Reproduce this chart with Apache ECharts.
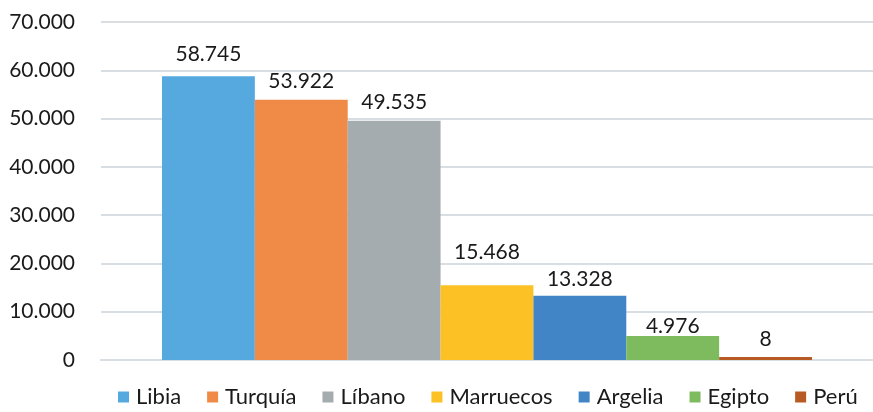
<!DOCTYPE html>
<html>
<head>
<meta charset="utf-8">
<script src="https://cdn.jsdelivr.net/npm/echarts@6/dist/echarts.min.js"></script>
<style>
  html, body { margin: 0; padding: 0; background: #fff; }
  #chart { width: 873px; height: 412px; }
</style>
</head>
<body>
<div id="chart"></div>
<script>
// Chart data
const countries = ['Libia', 'Turquía', 'Líbano', 'Marruecos', 'Argelia', 'Egipto', 'Perú'];
const values = [58745, 53922, 49535, 15468, 13328, 4976, 8];
const colors = ['#55A9DF', '#EF8A47', '#A5ACAF', '#FBC125', '#4285C7', '#7EBB5E', '#B85A24'];
const yTicks = [0, 10000, 20000, 30000, 40000, 50000, 60000, 70000];

// Thousands with a dot, as in Spanish
function fmt(v) {
    return String(v).replace(/\B(?=(\d{3})+(?!\d))/g, '.');
}

document.addEventListener('DOMContentLoaded', function() {
    const chart = echarts.init(document.getElementById('chart'));
    const font = 'Lato, "Noto Sans", sans-serif';

    // labels in the original sit at slightly uneven heights above the bars
    const labelGap = [12, 8, 8, 23, 6, -1, 7];

    const series = countries.map(function(name, i) {
        return {
            name: name,
            type: 'bar',
            data: [values[i]],
            barGap: '0%',
            barCategoryGap: '15.8%',
            barMinHeight: 3,
            itemStyle: { color: colors[i] },
            label: {
                show: true,
                position: 'top',
                distance: labelGap[i],
                color: '#1a1a1a',
                fontSize: 21,
                fontFamily: font,
                formatter: function(p) { return fmt(p.value); }
            }
        };
    });

    const option = {
        animation: false,
        grid: { left: 101, top: 22, right: 0, height: 338 },
        legend: {
            bottom: 4,
            left: 118,
            right: 0,
            padding: 0,
            itemWidth: 11,
            itemHeight: 11,
            itemGap: 26,
            icon: 'rect',
            textStyle: { fontSize: 22, color: '#1a1a1a', fontFamily: font, padding: [0, 0, 0, 2] },
            data: countries
        },
        xAxis: {
            type: 'category',
            data: [''],
            axisLine: { show: true, lineStyle: { color: '#D9DEE2', width: 2 } },
            axisTick: { show: false },
            axisLabel: { show: false }
        },
        yAxis: {
            type: 'value',
            min: yTicks[0],
            max: yTicks[yTicks.length - 1],
            interval: 10000,
            axisLine: { show: false },
            axisTick: { show: false },
            splitLine: { lineStyle: { color: '#D9DEE2', width: 2 } },
            axisLabel: {
                color: '#1a1a1a',
                fontSize: 21,
                fontFamily: font,
                margin: 26,
                formatter: function(v) { return fmt(v); }
            }
        },
        series: series
    };

    chart.setOption(option);
});
</script>
</body>
</html>
